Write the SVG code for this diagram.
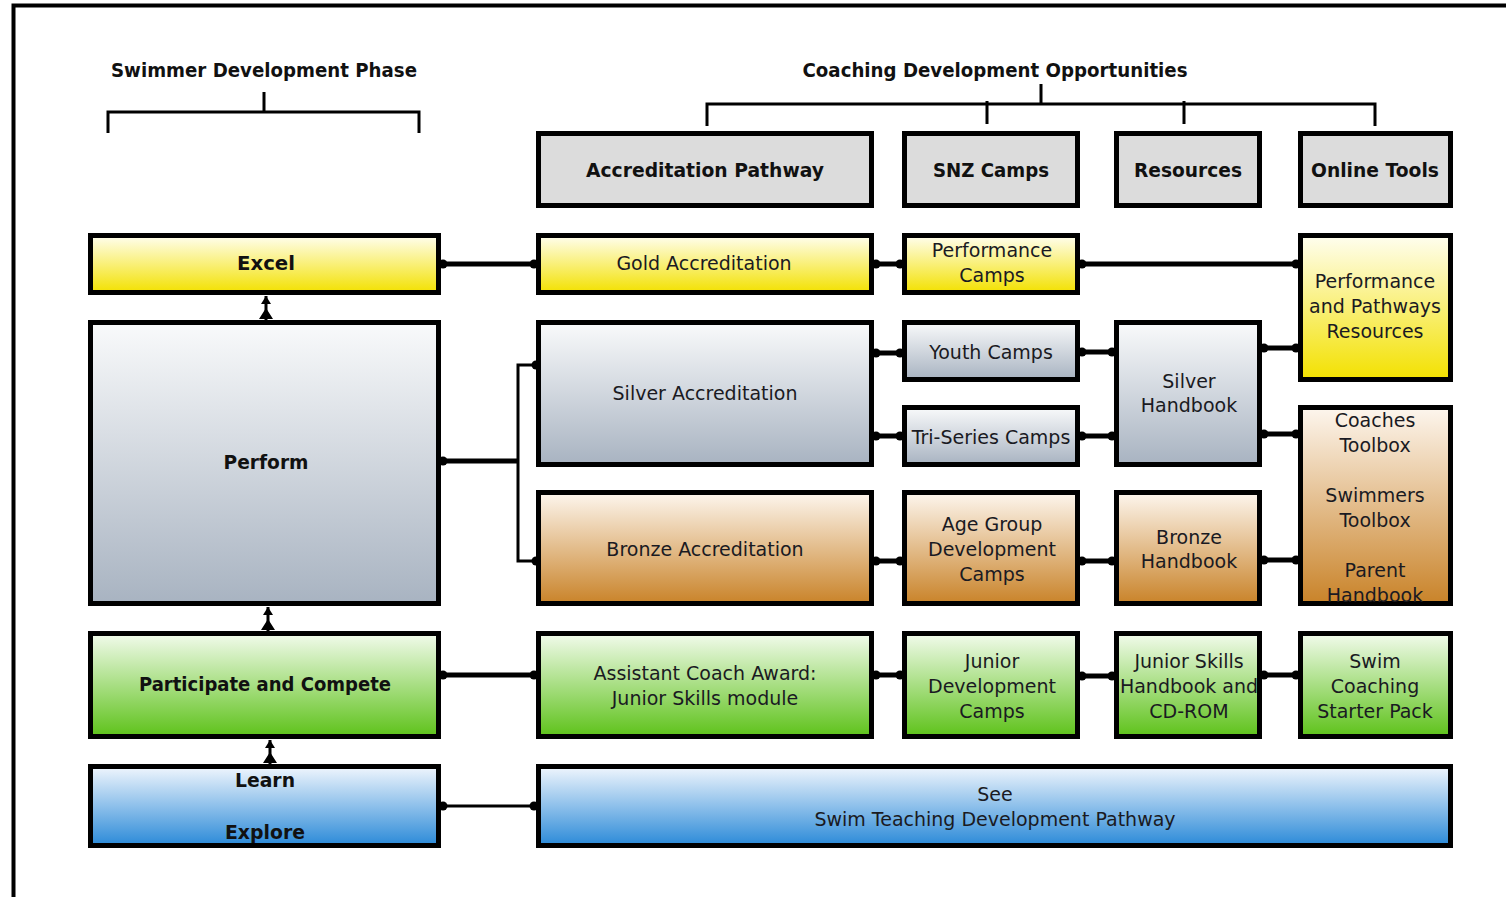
<svg xmlns="http://www.w3.org/2000/svg" width="1506" height="897" viewBox="0 0 1506 897">
<style>
.n{stroke:#000;stroke-width:5}
.t{font-family:"DejaVu Sans",Verdana,sans-serif;font-size:19px;fill:#1a1a22;text-anchor:middle;dominant-baseline:central}
.b{font-family:"DejaVu Sans",Verdana,sans-serif;font-weight:bold;font-size:19px;fill:#111;text-anchor:middle;dominant-baseline:central}
.c{fill:none;stroke:#000;stroke-width:5;marker-start:url(#dot);marker-end:url(#dot)}
.c2{fill:none;stroke:#000;stroke-width:3}
.br{fill:none;stroke:#000;stroke-width:3}
</style>
<defs>
<linearGradient id="gy" x1="0" y1="0" x2="0" y2="1"><stop offset="0" stop-color="#fffef0"/><stop offset="1" stop-color="#f3e100"/></linearGradient>
<linearGradient id="gs" x1="0" y1="0" x2="0" y2="1"><stop offset="0" stop-color="#f9fafb"/><stop offset="1" stop-color="#a8b3c1"/></linearGradient>
<linearGradient id="gb" x1="0" y1="0" x2="0" y2="1"><stop offset="0" stop-color="#fdf6ee"/><stop offset="1" stop-color="#c98329"/></linearGradient>
<linearGradient id="gg" x1="0" y1="0" x2="0" y2="1"><stop offset="0" stop-color="#f2fbec"/><stop offset="1" stop-color="#5ec21a"/></linearGradient>
<linearGradient id="gl" x1="0" y1="0" x2="0" y2="1"><stop offset="0" stop-color="#f0f6fd"/><stop offset="1" stop-color="#2b8ad8"/></linearGradient>
<marker id="dot" viewBox="0 0 10 10" refX="5" refY="5" markerWidth="10" markerHeight="10" markerUnits="userSpaceOnUse"><circle cx="5" cy="5" r="4.5" fill="#000"/></marker>
</defs>
<rect width="1506" height="897" fill="#fff"/>
<path d="M13.5 897V5.5H1506" fill="none" stroke="#000" stroke-width="4"/>

<g id="titles">
<text class="b" x="264" y="70" textLength="306" lengthAdjust="spacingAndGlyphs">Swimmer Development Phase</text>
<text class="b" x="995" y="70" textLength="385" lengthAdjust="spacingAndGlyphs">Coaching Development Opportunities</text>
<path class="br" d="M264 92V112M108 133V112H419V133"/>
<path class="br" d="M1041 84V104M707 126V104H1375V126M987 101V124M1184 101V124"/>
</g>

<g id="connectors">
<path class="c" d="M443 264H534"/>
<path class="c" d="M876 264H900"/>
<path class="c" d="M1082 264H1296"/>
<path class="c" d="M443 461H518" style="marker-end:none"/>
<path class="c2" d="M536 365H518V561H536"/>
<circle cx="536" cy="365" r="4.5"/>
<circle cx="536" cy="561" r="4.5"/>
<path class="c" d="M876 353H900"/>
<path class="c" d="M876 436H900"/>
<path class="c" d="M1082 352H1112"/>
<path class="c" d="M1082 436H1112"/>
<path class="c" d="M1264 348H1296"/>
<path class="c" d="M1264 434H1296"/>
<path class="c" d="M876 561H900"/>
<path class="c" d="M1082 561H1112"/>
<path class="c" d="M1264 560H1296"/>
<path class="c" d="M443 675H534"/>
<path class="c" d="M876 675H900"/>
<path class="c" d="M1082 676H1112"/>
<path class="c" d="M1264 675H1296"/>
<path class="c" d="M443 806H534" style="stroke-width:3"/>
<path d="M266 296V320M268 607V631M270 740V764" stroke="#000" stroke-width="3"/>
<path d="M266 296L261 304H271ZM266 308L259 319H273Z"/>
<path d="M268 607L263 615H273ZM268 619L261 630H275Z"/>
<path d="M270 740L265 748H275ZM270 752L263 763H277Z"/>
</g>

<g id="h-accr"><rect class="n" x="538.5" y="133.5" width="333" height="72" fill="#dcdcdc"/><text class="b" x="705" y="170" textLength="238" lengthAdjust="spacingAndGlyphs">Accreditation Pathway</text></g>
<g id="h-snz"><rect class="n" x="904.5" y="133.5" width="173" height="72" fill="#dcdcdc"/><text class="b" x="991" y="170" textLength="116" lengthAdjust="spacingAndGlyphs">SNZ Camps</text></g>
<g id="h-res"><rect class="n" x="1116.5" y="133.5" width="143" height="72" fill="#dcdcdc"/><text class="b" x="1188" y="170" textLength="108" lengthAdjust="spacingAndGlyphs">Resources</text></g>
<g id="h-online"><rect class="n" x="1300.5" y="133.5" width="150" height="72" fill="#dcdcdc"/><text class="b" x="1375" y="170" textLength="128" lengthAdjust="spacingAndGlyphs">Online Tools</text></g>

<g id="excel"><rect class="n" x="90.5" y="235.5" width="348" height="57" fill="url(#gy)"/><text class="b" x="266" y="263" textLength="58" lengthAdjust="spacingAndGlyphs">Excel</text></g>
<g id="perform"><rect class="n" x="90.5" y="322.5" width="348" height="281" fill="url(#gs)"/><text class="b" x="266" y="462" textLength="85" lengthAdjust="spacingAndGlyphs">Perform</text></g>
<g id="participate"><rect class="n" x="90.5" y="633.5" width="348" height="103" fill="url(#gg)"/><text class="b" x="265" y="684" textLength="252" lengthAdjust="spacingAndGlyphs">Participate and Compete</text></g>
<g id="learn"><rect class="n" x="90.5" y="766.5" width="348" height="79" fill="url(#gl)"/><text class="b" x="265" y="780" textLength="60" lengthAdjust="spacingAndGlyphs">Learn</text><text class="b" x="265" y="832" textLength="80" lengthAdjust="spacingAndGlyphs">Explore</text></g>

<g id="gold"><rect class="n" x="538.5" y="235.5" width="333" height="57" fill="url(#gy)"/><text class="t" x="704" y="263">Gold Accreditation</text></g>
<g id="perfcamps"><rect class="n" x="904.5" y="235.5" width="173" height="57" fill="url(#gy)"/><text class="t" x="992" y="250">Performance</text><text class="t" x="992" y="275">Camps</text></g>
<g id="perfres"><rect class="n" x="1300.5" y="235.5" width="150" height="144" fill="url(#gy)"/><text class="t" x="1375" y="281">Performance</text><text class="t" x="1375" y="306">and Pathways</text><text class="t" x="1375" y="331">Resources</text></g>

<g id="silver"><rect class="n" x="538.5" y="322.5" width="333" height="142" fill="url(#gs)"/><text class="t" x="705" y="393">Silver Accreditation</text></g>
<g id="youth"><rect class="n" x="904.5" y="322.5" width="173" height="57" fill="url(#gs)"/><text class="t" x="991" y="352">Youth Camps</text></g>
<g id="triseries"><rect class="n" x="904.5" y="407.5" width="173" height="57" fill="url(#gs)"/><text class="t" x="991" y="437">Tri-Series Camps</text></g>
<g id="silverhb"><rect class="n" x="1116.5" y="322.5" width="143" height="142" fill="url(#gs)"/><text class="t" x="1189" y="381">Silver</text><text class="t" x="1189" y="405">Handbook</text></g>
<g id="toolbox"><rect class="n" x="1300.5" y="407.5" width="150" height="196" fill="url(#gb)"/><text class="t" x="1375" y="420">Coaches</text><text class="t" x="1375" y="445">Toolbox</text><text class="t" x="1375" y="495">Swimmers</text><text class="t" x="1375" y="520">Toolbox</text><text class="t" x="1375" y="570">Parent</text><text class="t" x="1375" y="595">Handbook</text></g>

<g id="bronze"><rect class="n" x="538.5" y="492.5" width="333" height="111" fill="url(#gb)"/><text class="t" x="705" y="549">Bronze Accreditation</text></g>
<g id="agegroup"><rect class="n" x="904.5" y="492.5" width="173" height="111" fill="url(#gb)"/><text class="t" x="992" y="524">Age Group</text><text class="t" x="992" y="549">Development</text><text class="t" x="992" y="574">Camps</text></g>
<g id="bronzehb"><rect class="n" x="1116.5" y="492.5" width="143" height="111" fill="url(#gb)"/><text class="t" x="1189" y="537">Bronze</text><text class="t" x="1189" y="561">Handbook</text></g>

<g id="assistant"><rect class="n" x="538.5" y="633.5" width="333" height="103" fill="url(#gg)"/><text class="t" x="705" y="673">Assistant Coach Award:</text><text class="t" x="705" y="698">Junior Skills module</text></g>
<g id="juniordev"><rect class="n" x="904.5" y="633.5" width="173" height="103" fill="url(#gg)"/><text class="t" x="992" y="661">Junior</text><text class="t" x="992" y="686">Development</text><text class="t" x="992" y="711">Camps</text></g>
<g id="juniorskills"><rect class="n" x="1116.5" y="633.5" width="143" height="103" fill="url(#gg)"/><text class="t" x="1189" y="661">Junior Skills</text><text class="t" x="1189" y="686">Handbook and</text><text class="t" x="1189" y="711">CD-ROM</text></g>
<g id="starter"><rect class="n" x="1300.5" y="633.5" width="150" height="103" fill="url(#gg)"/><text class="t" x="1375" y="661">Swim</text><text class="t" x="1375" y="686">Coaching</text><text class="t" x="1375" y="711">Starter Pack</text></g>

<g id="see"><rect class="n" x="538.5" y="766.5" width="912" height="79" fill="url(#gl)"/><text class="t" x="995" y="794">See</text><text class="t" x="995" y="819">Swim Teaching Development Pathway</text></g>
</svg>
